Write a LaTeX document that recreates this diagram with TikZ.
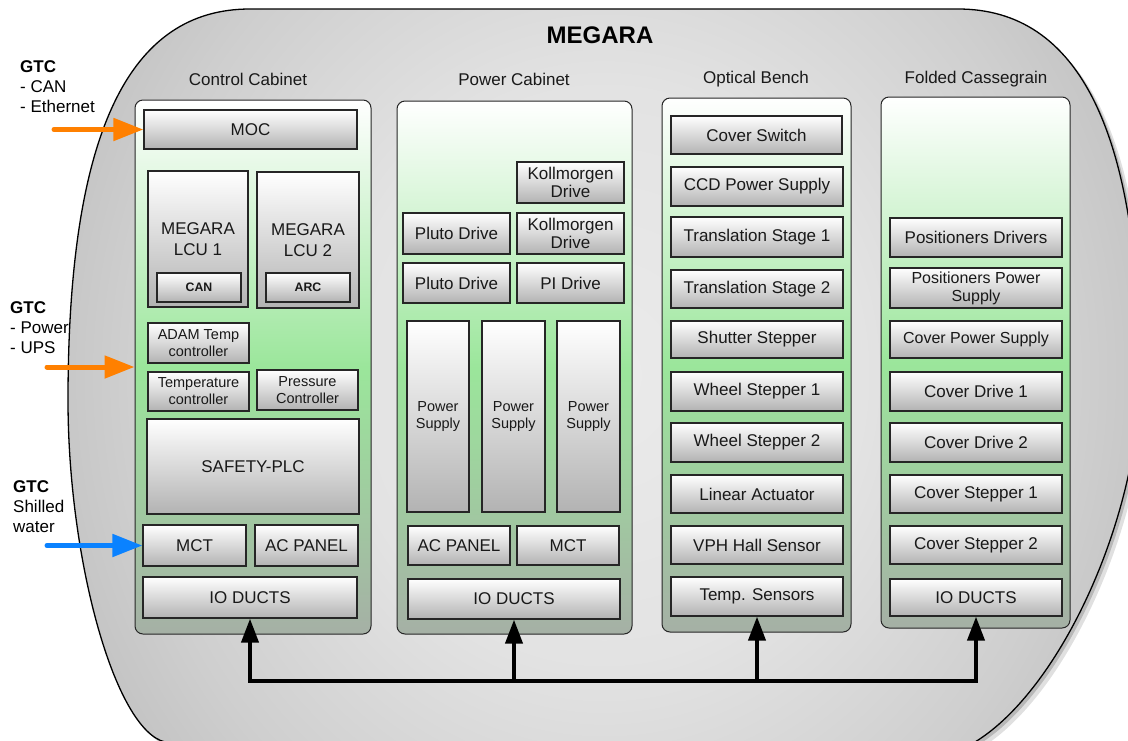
\documentclass[tikz,border=0pt]{standalone}
\usepackage{fontspec}
\setmainfont{Liberation Sans}
\usetikzlibrary{arrows.meta}
\definecolor{cabgreen}{RGB}{155,230,155}
\definecolor{cabbot}{RGB}{165,176,165}
\definecolor{gtcorange}{RGB}{255,128,0}
\definecolor{gtcblue}{RGB}{10,130,255}
\pgfdeclareradialshading{blobshade}{\pgfpoint{0bp}{0bp}}{color(0bp)=(black!8); color(12bp)=(black!11); color(22bp)=(black!19); color(30bp)=(black!27); color(36bp)=(black!32); color(50bp)=(black!34)}
\newcommand\blobpath{(250,9) -- (958,9) .. controls (1078,9) and (1140,130) .. (1140,380) .. controls (1138,520) and (1060,690) .. (975,742) -- (165,742) .. controls (115,730) and (68,560) .. (68,400) .. controls (68,130) and (130,9) .. (250,9) -- cycle}
\tikzset{
 unitbox/.style={draw=black!85, line width=1.2pt, top color=white, bottom color=black!30, inner sep=0pt, align=center, font=\fontsize{17}{18}\selectfont, text=black!90},
 cabinet/.style={draw=black!85, line width=1pt, rounded corners=8pt, top color=white, bottom color=cabbot, middle color=cabgreen},
 cablabel/.style={font=\fontsize{17}{18}\selectfont, text=black!90},
 lcutxt/.style={font=\fontsize{17}{21}\selectfont},
 smalltxt/.style={font=\fontsize{14.5}{17}\selectfont},
 midtxt/.style={font=\fontsize{16}{18}\selectfont},
 tagtxt/.style={font=\bfseries\fontsize{12.3}{14}\selectfont},
 gtc/.style={align=left, anchor=west, inner sep=0pt, font=\fontsize{17}{20}\selectfont},
 feed/.style={line width=5pt, line cap=round, -{Triangle[length=30pt,width=22pt]}},
 busline/.style={line width=4pt, line cap=rect},
 busarrow/.style={line width=4pt, -{Triangle[length=24pt,width=17pt]}},
}
\newcommand\ubox[7][]{\node[unitbox,#1,minimum width={(#4-#2)*1pt},minimum height={(#5-#3)*1pt}] (#6) at ({(#2+#4)/2},{(#3+#5)/2}) {#7};}
\newcommand\cbox[5]{\node[cabinet,minimum width={(#4-#2)*1pt},minimum height={(#5-#3)*1pt}] (#1) at ({(#2+#4)/2},{(#3+#5)/2}) {};}
\begin{document}
\begin{tikzpicture}[x=1pt,y=-1pt]
\useasboundingbox (0,0) rectangle (1128,740);
% outer blob with shadow
\begin{scope}[shift={(6,6)}]\fill[black,opacity=0.12] \blobpath;\end{scope}
\begin{scope}[shift={(3,3)}]\fill[black,opacity=0.18] \blobpath;\end{scope}
\begin{scope}
\clip \blobpath;
\shade[shading=blobshade] (62,-220) rectangle (1146,970);
\end{scope}
\draw[line width=1.3pt] \blobpath;
\node[font=\bfseries\fontsize{24}{26}\selectfont] (title) at (600,35) {MEGARA};
% cabinet labels
\node[cablabel] (lab1) at (248,79) {Control Cabinet};
\node[cablabel] (lab2) at (514,79) {Power Cabinet};
\node[cablabel] (lab3) at (756,79) {Optical Bench};
\node[cablabel] (lab4) at (976,79) {Folded Cassegrain};
% cabinets
\cbox{cab1}{135}{100}{371}{634}
\cbox{cab2}{397}{101}{632}{634}
\cbox{cab3}{662}{98}{851}{632}
\cbox{cab4}{881}{97}{1070}{628}
% control cabinet
\ubox{144}{110}{357}{149}{moc}{MOC}
\ubox[lcutxt]{148}{171}{248}{307}{lcu1}{MEGARA\\LCU 1}
\ubox[tagtxt]{157}{273}{241}{302}{can}{CAN}
\ubox[lcutxt]{257}{172}{359}{308}{lcu2}{MEGARA\\LCU 2}
\ubox[tagtxt]{266}{273}{350}{302}{arc}{ARC}
\ubox[smalltxt]{148}{323}{249}{363}{adam}{ADAM Temp\\controller}
\ubox[smalltxt]{148}{372}{249}{411}{tempc}{Temperature\\controller}
\ubox[smalltxt]{257}{370}{358}{410}{press}{Pressure\\Controller}
\ubox{147}{419}{359}{514}{plc}{SAFETY-PLC}
\ubox{143}{525}{246}{566}{mct1}{MCT}
\ubox{255}{525}{358}{566}{acp1}{AC PANEL}
\ubox{143}{577}{357}{618}{io1}{IO DUCTS}
% power cabinet
\ubox{517}{162}{624}{203}{koll1}{Kollmorgen\\Drive}
\ubox{403}{213}{510}{254}{pluto1}{Pluto Drive}
\ubox{517}{213}{624}{254}{koll2}{Kollmorgen\\Drive}
\ubox{403}{263}{510}{303}{pluto2}{Pluto Drive}
\ubox{517}{263}{624}{303}{pid}{PI Drive}
\ubox[smalltxt]{407}{321}{469}{512}{ps1}{Power\\Supply}
\ubox[smalltxt]{482}{321}{545}{512}{ps2}{Power\\Supply}
\ubox[smalltxt]{557}{321}{620}{512}{ps3}{Power\\Supply}
\ubox{408}{526}{510}{565}{acp2}{AC PANEL}
\ubox{517}{526}{619}{565}{mct2}{MCT}
\ubox{408}{579}{620}{619}{io2}{IO DUCTS}
% optical bench
\ubox{671}{116}{842}{154}{cs}{Cover Switch}
\ubox{671}{167}{843}{206}{ccd}{CCD Power Supply}
\ubox{671}{217}{843}{257}{ts1}{Translation Stage 1}
\ubox{671}{270}{843}{308}{ts2}{Translation Stage 2}
\ubox{671}{321}{843}{358}{shut}{Shutter Stepper}
\ubox{671}{372}{843}{411}{ws1}{Wheel Stepper 1}
\ubox{671}{423}{843}{462}{ws2}{Wheel Stepper 2}
\ubox{671}{475}{843}{513}{la}{Linear Actuator}
\ubox{671}{526}{843}{564}{vph}{VPH Hall Sensor}
\ubox{671}{577}{843}{616}{temps}{Temp. Sensors}
% folded cassegrain
\ubox{890}{218}{1062}{257}{posdrv}{Positioners Drivers}
\ubox[midtxt]{890}{268}{1062}{308}{posps}{Positioners Power\\Supply}
\ubox[midtxt]{890}{321}{1062}{358}{covps}{Cover Power Supply}
\ubox{890}{372}{1062}{411}{cd1}{Cover Drive 1}
\ubox{890}{423}{1062}{462}{cd2}{Cover Drive 2}
\ubox{890}{475}{1062}{513}{cs1}{Cover Stepper 1}
\ubox{890}{526}{1062}{564}{cs2}{Cover Stepper 2}
\ubox{890}{579}{1062}{616}{io4}{IO DUCTS}
% external GTC feeds
\node[gtc] (gtc1) at (20,87) {\textbf{GTC}\\- CAN\\- Ethernet};
\node[gtc] (gtc2) at (10,328) {\textbf{GTC}\\- Power\\- UPS};
\node[gtc] (gtc3) at (13,507) {\textbf{GTC}\\Shilled\\water};
\coordinate (f1) at (54,129.5);
\coordinate (f2) at (47,367);
\coordinate (f3) at (47,545.5);
\draw[feed, gtcorange] (f1) -- (moc.west);
\draw[feed, gtcorange] (f2) -- (f2 -| cab1.west);
\draw[feed, gtcblue] (f3) -- (mct1.west);
% bus
\coordinate (busy) at (0,681);
\draw[busline] (io1.south |- busy) -- (io4.south |- busy);
\draw[busarrow] (io1.south |- busy) -- (io1.south);
\draw[busarrow] (io2.south |- busy) -- (io2.south);
\draw[busarrow] (temps.south |- busy) -- (temps.south);
\draw[busarrow] (io4.south |- busy) -- (io4.south);
\end{tikzpicture}
\end{document}
